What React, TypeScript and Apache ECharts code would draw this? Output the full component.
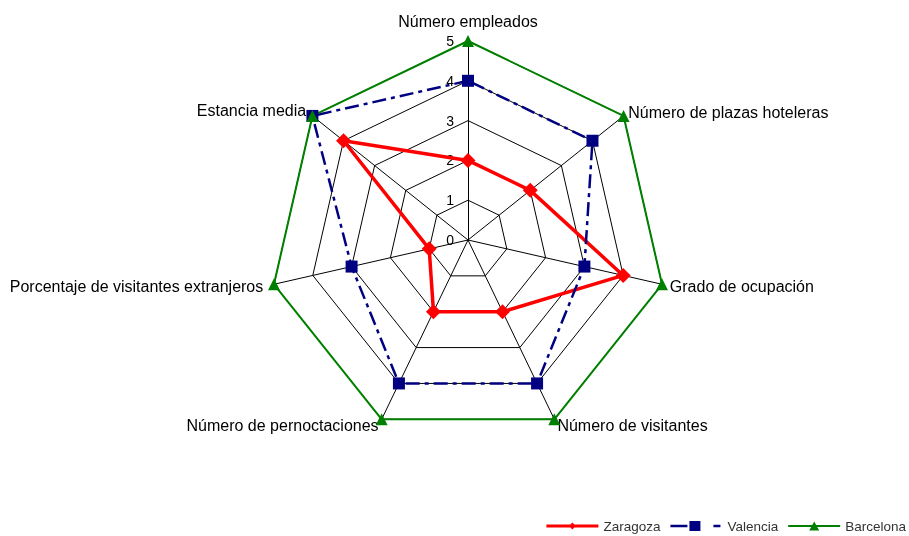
import React, { useEffect, useRef } from "react";
import * as echarts from "echarts";

// Indicators listed clockwise from the top, as in the reference
const indicators = [
  "Número empleados",
  "Número de plazas hoteleras",
  "Grado de ocupación",
  "Número de visitantes",
  "Número de pernoctaciones",
  "Porcentaje de visitantes extranjeros",
  "Estancia media",
];
const zaragoza = [2, 2, 4, 2, 2, 1, 4];
const valencia = [4, 4, 3, 4, 4, 3, 5];
const barcelona = [5, 5, 5, 5, 5, 5, 5];
const seriesNames = ["Zaragoza", "Valencia", "Barcelona"];

// label gap per indicator (same clockwise order)
const nameGaps = [12, 6, 8, 7, 7, 11, 8];

// ECharts radar runs counter-clockwise; reorder to draw clockwise
const order = [0, 6, 5, 4, 3, 2, 1];
const reorder = <T,>(arr: T[]) => order.map((i) => arr[i]);

const iconZaragoza =
  "path://M0,3.6 L52,3.6 L52,6.4 L0,6.4 Z M26,1.5 L29.5,5 L26,8.5 L22.5,5 Z";
const iconValencia =
  "path://M0,3.7 L17,3.7 L17,6.3 L0,6.3 Z M19,0 L30,0 L30,10 L19,10 Z M43,3.7 L50,3.7 L50,6.3 L43,6.3 Z M52,4.9 L52,5.1 L51.9,5.1 Z";
const iconBarcelona =
  "path://M0,3.9 L52,3.9 L52,6.1 L0,6.1 Z M26,0.5 L31,9.5 L21,9.5 Z";

export default function App() {
  const ref = useRef<HTMLDivElement>(null);
  useEffect(() => {
    const chart = echarts.init(ref.current!, null, { renderer: "svg" });
    const font = "'Liberation Sans', Arial, sans-serif";
    const names = reorder(indicators);
    const gaps = reorder(nameGaps);
    chart.setOption({
      animation: false,
      textStyle: { fontFamily: font },
      legend: {
        right: 3,
        bottom: 3,
        padding: 0,
        itemWidth: 52,
        itemHeight: 10,
        itemGap: 10,
        textStyle: { fontSize: 13.5, color: "#333", fontFamily: font },
        data: [
          { name: seriesNames[0], icon: iconZaragoza },
          { name: seriesNames[1], icon: iconValencia },
          { name: seriesNames[2], icon: iconBarcelona },
        ],
      },
      radar: {
        center: [468, 240],
        radius: 199,
        startAngle: 90,
        shape: "polygon",
        splitNumber: 5,
        nameGap: 6,
        axisName: { color: "#000", fontSize: 16, fontFamily: font },
        axisLine: { lineStyle: { color: "#000", width: 1 } },
        splitLine: { lineStyle: { color: "#000", width: 1 } },
        splitArea: { show: false },
        axisTick: { show: false },
        axisLabel: { show: false },
        indicator: names.map((name, i) => ({
          name,
          min: 0,
          max: 5,
          nameGap: gaps[i],
          ...(i === 0
            ? {
                axisLabel: {
                  show: true,
                  color: "#000",
                  fontSize: 14,
                  margin: 14,
                  fontFamily: font,
                },
              }
            : {}),
        })),
      },
      series: [
        {
          type: "radar",
          data: [
            {
              name: seriesNames[0],
              value: reorder(zaragoza),
              symbol: "diamond",
              symbolSize: 15,
              lineStyle: { color: "#ff0000", width: 3.5 },
              itemStyle: { color: "#ff0000" },
            },
            {
              name: seriesNames[1],
              value: reorder(valencia),
              symbol: "rect",
              symbolSize: 12,
              lineStyle: { color: "#000080", width: 2.5, type: [14, 5, 4, 5] },
              itemStyle: { color: "#000080" },
            },
            {
              name: seriesNames[2],
              value: reorder(barcelona),
              symbol: "triangle",
              symbolSize: 12,
              lineStyle: { color: "#008000", width: 2 },
              itemStyle: { color: "#008000" },
            },
          ],
        },
      ],
    });
    return () => chart.dispose();
  }, []);
  return (
    <div
      ref={ref}
      style={{ position: "fixed", left: 0, top: 0, width: 909, height: 536 }}
    />
  );
}
